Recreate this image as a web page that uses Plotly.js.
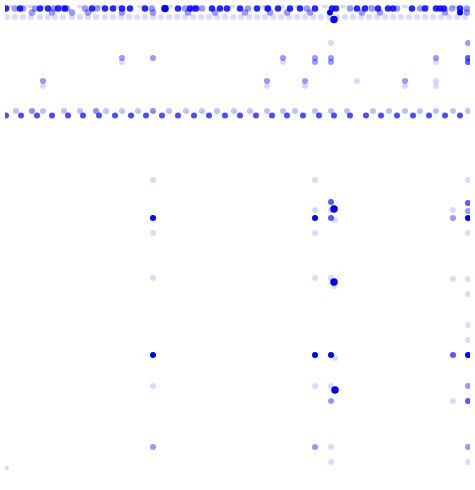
<!DOCTYPE html>
<html><head><meta charset="utf-8">
<script src="https://cdn.plot.ly/plotly-3.0.1.min.js"></script>
<style>html,body{margin:0;padding:0;background:#fff}</style>
</head><body><div id="chart" style="width:475px;height:490px"></div>
<script>
// Top band
const topDarkX = [6, 20, 40, 48, 58, 65, 92, 105, 113, 122, 130, 145, 165, 178, 190, 196, 212, 220, 227, 240, 257, 268, 278, 290, 300, 315, 332, 336, 357, 365, 378, 388, 393, 412, 425, 436, 440, 444, 460];
const topDarkY = [8.5, 8.5, 8.5, 8.5, 8.5, 8.5, 8.5, 8.5, 8.5, 8.5, 8.5, 8.5, 8.5, 8.5, 8.5, 8.5, 8.5, 8.5, 8.5, 8.5, 8.5, 8.5, 8.5, 8.5, 8.5, 8.5, 8.5, 8.5, 8.5, 8.5, 8.5, 8.5, 8.5, 8.5, 8.5, 8.5, 8.5, 8.5, 8.5];
const topMedX = [15, 23, 35, 54, 63, 67, 85, 97, 152, 185, 193, 202, 248, 267, 307, 350, 372, 397, 420, 452, 467,
                 32, 52, 72, 88, 122, 153, 188, 215, 245, 270, 287, 310, 362, 380, 445, 467];
const topMedY = [8.5, 8.5, 8.5, 8.5, 8.5, 8.5, 8.5, 8.5, 8.5, 8.5, 8.5, 8.5, 8.5, 8.5, 8.5, 8.5, 8.5, 8.5, 8.5, 8.5, 8.5,
                 12.5, 12.5, 12.5, 12.5, 12.5, 12.5, 12.5, 12.5, 12.5, 12.5, 12.5, 12.5, 12.5, 12.5, 12.5, 12.5];
const topLightX = [10, 30, 42, 60, 80, 100, 118, 140, 170, 196, 232, 262, 282, 297, 325, 343, 368, 405, 427, 455,
  7, 15, 23, 31, 40, 48, 55, 63, 72, 80, 88, 96, 105, 113, 121, 129, 137, 145, 153, 161, 169, 177, 185, 193, 201, 209, 217, 225, 233, 241, 249, 257, 265, 273, 281, 289, 297, 305, 313, 321, 329, 337, 345, 353, 361, 369, 377, 385, 393, 401, 409, 417, 425, 433, 441, 449, 457, 465];
const topLightY = [5.5, 5.5, 5.5, 5.5, 5.5, 5.5, 5.5, 5.5, 5.5, 5.5, 5.5, 5.5, 5.5, 5.5, 5.5, 5.5, 5.5, 5.5, 5.5, 5.5,
  17, 17, 17, 17, 17, 17, 17, 17, 17, 17, 17, 17, 17, 17, 17, 17, 17, 17, 17, 17, 17, 17, 17, 17, 17, 17, 17, 17, 17, 17, 17, 17, 17, 17, 17, 17, 17, 17, 17, 17, 17, 17, 17, 17, 17, 17, 17, 17, 17, 17, 17, 17, 17, 17, 17, 17, 17, 17];
// Middle band
const midDarkX = [6, 21, 37, 52, 68, 83, 99, 115, 131, 146, 162, 178, 194, 209, 225, 240, 256, 272, 287, 303, 319, 334, 350, 366, 381, 397, 413, 429, 445, 460];
const midDarkY = [115.5, 115.5, 115.5, 115.5, 115.5, 115.5, 115.5, 115.5, 115.5, 115.5, 115.5, 115.5, 115.5, 115.5, 115.5, 115.5, 115.5, 115.5, 115.5, 115.5, 115.5, 115.5, 115.5, 115.5, 115.5, 115.5, 115.5, 115.5, 115.5, 115.5];
const midLightX = [16, 43, 64, 80, 106, 122, 138, 169, 186, 202, 217, 234, 250, 267, 283, 295, 315, 331, 347, 373, 389, 405, 420, 436, 453, 468];
const midLightY = [111, 111, 111, 111, 111, 111, 111, 111, 111, 111, 111, 111, 111, 111, 111, 111, 111, 111, 111, 111, 111, 111, 111, 111, 111, 111];
const midMedX = [32, 96, 153];
const midMedY = [111, 111, 111];
// Scattered points
const lightX = [43, 122, 283, 331, 267, 305, 357, 405, 436, 436, 436, 153, 153, 153, 315, 331, 315, 335, 315, 315, 331, 334, 468, 453, 468, 453, 468, 468, 153, 6, 335, 315, 331, 331, 468, 468, 453, 468, 331];
const lightY = [86, 62, 62, 43, 86, 86, 81, 86, 81, 86, 62, 180, 233, 278, 180, 210, 210, 220, 233, 278, 278, 286, 180, 210, 233, 279, 279, 294, 386, 469, 358, 386, 386, 462, 325, 340, 401, 462, 447];
const medX = [43, 122, 153, 283, 315, 315, 331, 331, 468, 267, 305, 405, 436, 334, 468, 453, 153, 331, 315, 468, 468];
const medY = [81, 58, 58, 58, 58, 62, 58, 62, 43, 81, 81, 81, 58, 208, 211, 218, 447, 401, 447, 386, 447];
const semiX = [331, 468, 331, 468, 468, 453, 468];
const semiY = [202, 203, 218, 58, 62, 355, 401];
const darkX = [153, 315, 468, 153, 315, 331, 468, 330, 460];
const darkY = [218, 218, 218, 355, 355, 355, 355, 12.5, 12.5];
const bigX = [334, 334, 334, 165, 335];
const bigY = [19.5, 209, 282, 8.5, 390];

const blue = 'rgb(0,0,255)';
function tr(x, y, op, size) {
  return {type: 'scatter', mode: 'markers', x: x, y: y, hoverinfo: 'skip',
    marker: {color: blue, opacity: op, size: size, line: {width: 0}}};
}
const data = [
  tr(topLightX, topLightY, 0.15, 6),
  tr(midLightX, midLightY, 0.25, 6),
  tr(lightX, lightY, 0.15, 6),
  tr(topMedX, topMedY, 0.4, 6.5),
  tr(medX, medY, 0.4, 6),
  tr(midMedX, midMedY, 0.45, 6),
  tr(semiX, semiY, 0.65, 6),
  tr(midDarkX, midDarkY, 0.7, 6),
  tr(topDarkX, topDarkY, 0.85, 6.5),
  tr(darkX, darkY, 1.0, 6),
  tr(bigX, bigY, 1.0, 7.5)
];
const ax = {visible: false, showgrid: false, zeroline: false, fixedrange: true};
const layout = {
  width: 475, height: 490,
  margin: {l: 5, r: 5, t: 5, b: 20},
  paper_bgcolor: '#fff', plot_bgcolor: '#fff',
  showlegend: false,
  xaxis: Object.assign({range: [5, 470]}, ax),
  yaxis: Object.assign({range: [470, 5]}, ax)
};
Plotly.newPlot('chart', data, layout, {displayModeBar: false, staticPlot: true});
</script></body></html>
